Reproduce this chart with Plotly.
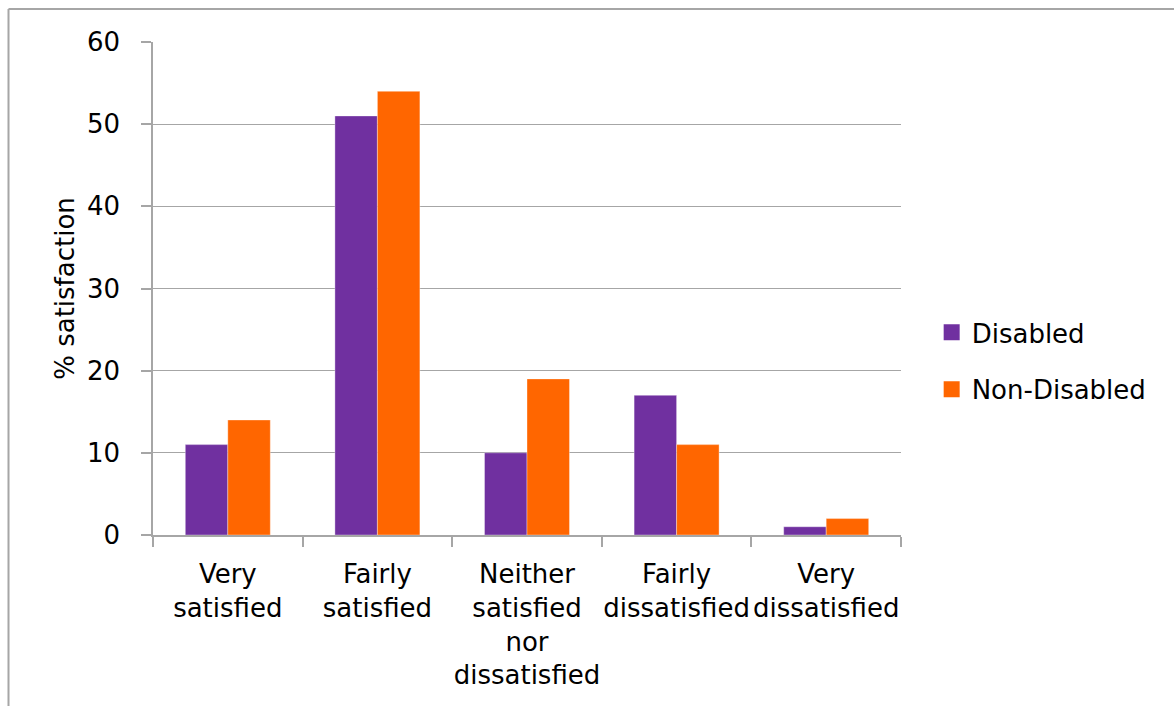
import plotly.graph_objects as go

categories = [
    "Very<br>satisfied",
    "Fairly<br>satisfied",
    "Neither<br>satisfied<br>nor<br>dissatisfied",
    "Fairly<br>dissatisfied",
    "Very<br>dissatisfied",
]
disabled = [11, 51, 10, 17, 1]
non_disabled = [14, 54, 19, 11, 2]
y_ticks = [0, 10, 20, 30, 40, 50, 60]

series = [
    ("Disabled", disabled, "#7030A0"),
    ("Non-Disabled", non_disabled, "#FF6600"),
]

FONT = "DejaVu Sans"
GREY = "#A6A6A6"

fig = go.Figure()
for name, values, color in series:
    fig.add_trace(go.Bar(
        x=categories, y=values, name=name,
        marker=dict(color=color, line=dict(color="rgba(255,255,255,0.35)", width=1)),
        showlegend=False,
    ))
# legend keys drawn as larger square swatches
for name, values, color in series:
    fig.add_trace(go.Scatter(
        x=[None], y=[None], name=name, mode="markers",
        marker=dict(symbol="square", size=16, color=color),
        legendgroup=name,
    ))

fig.update_layout(
    width=1174, height=706,
    margin=dict(l=153, r=273, t=42, b=171),
    paper_bgcolor="white", plot_bgcolor="white",
    font=dict(family=FONT, size=26, color="black"),
    barmode="group", bargap=0.432, bargroupgap=0,
    legend=dict(
        x=1.041, y=0.353, xanchor="left", yanchor="middle",
        font=dict(size=26), traceorder="grouped", tracegroupgap=20,
        itemwidth=30, itemsizing="trace",
    ),
    xaxis=dict(
        showline=True, linecolor=GREY, linewidth=1.5,
        ticks="outside", tickson="boundaries", ticklen=10, tickcolor=GREY, tickwidth=1.5,
        tickfont=dict(size=26), tickangle=0, showgrid=False, automargin=False,
        ticklabelstandoff=15,
    ),
    yaxis=dict(
        range=[0, 60], tickvals=y_ticks,
        showline=True, linecolor=GREY, linewidth=1.5,
        ticks="outside", ticklen=10, tickcolor=GREY, tickwidth=1.5,
        showgrid=True, gridcolor=GREY, gridwidth=1.2,
        tickfont=dict(size=26), ticklabelstandoff=16,
        title=dict(text="% satisfaction", font=dict(size=26), standoff=5),
        zeroline=False, automargin=False,
    ),
    shapes=[
        dict(type="line", xref="paper", yref="paper",
             x0=(8.5 - 153) / 748, x1=1.4, y0=(535 - 9) / 493, y1=(535 - 9) / 493,
             line=dict(color=GREY, width=2)),
        dict(type="line", xref="paper", yref="paper",
             x0=(8.5 - 153) / 748, x1=(8.5 - 153) / 748, y0=(535 - 9) / 493, y1=-0.4,
             line=dict(color=GREY, width=2)),
    ],
)

fig.write_html("out.html")
